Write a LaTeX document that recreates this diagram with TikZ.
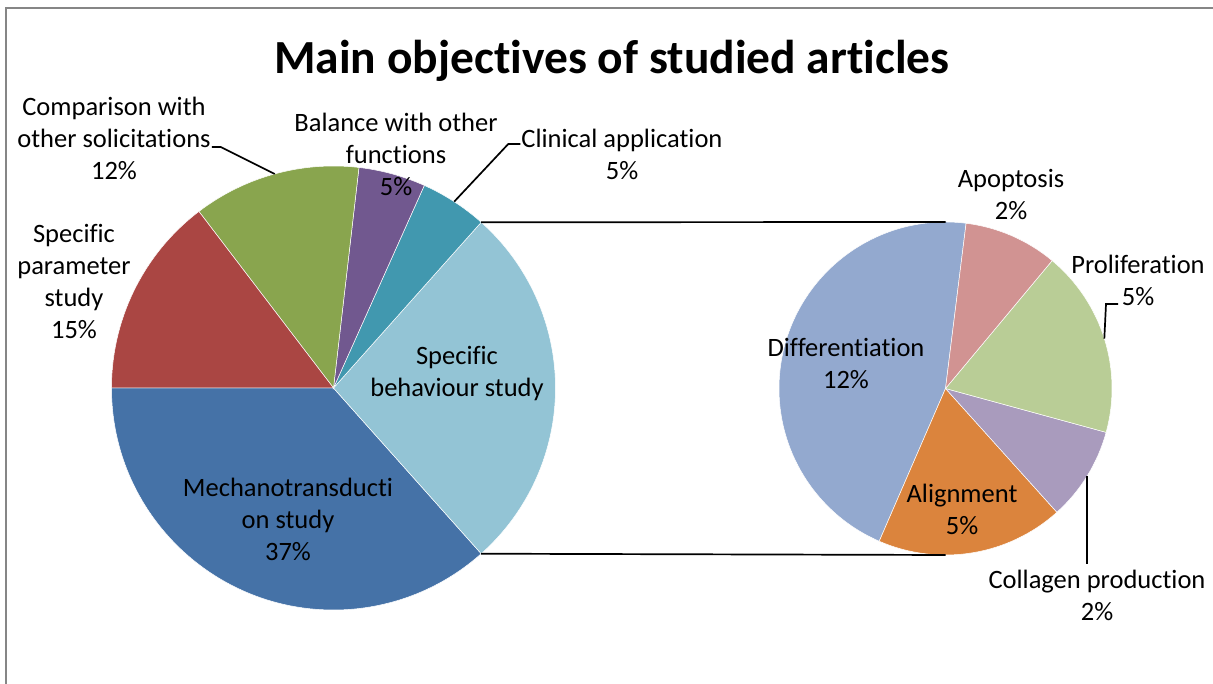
\documentclass[tikz,border=0pt]{standalone}
\usepackage{fontspec}
\setmainfont{Carlito}[Ligatures=NoCommon]
\usepackage{xcolor}
\usepackage{pgf,tikz}
\usetikzlibrary{calc}
\definecolor{framegray}{HTML}{868686}
\definecolor{mechblue}{HTML}{4572A7}
\definecolor{paramred}{HTML}{AA4643}
\definecolor{compgreen}{HTML}{89A54E}
\definecolor{balpurple}{HTML}{71588F}
\definecolor{clinteal}{HTML}{4198AF}
\definecolor{behavblue}{HTML}{93C4D5}
\definecolor{diffblue}{HTML}{93A9CF}
\definecolor{apopred}{HTML}{D19392}
\definecolor{prolgreen}{HTML}{B9CD96}
\definecolor{collpurple}{HTML}{A99BBD}
\definecolor{alignorange}{HTML}{DB843D}
\newcommand{\charttitlefont}{\fontsize{47.5}{57}\bfseries\selectfont}
\newcommand{\slicefont}{\fontsize{26.5}{32}\selectfont}
\tikzset{
    slicelabel/.style={black, align=center, font=\slicefont, inner sep=1pt},
    leader/.style={black, line width=1.7pt},
    wedge/.style={draw=white, line width=0.5pt}
}

\begin{document}
\begin{tikzpicture}[x=1pt,y=1pt]
    % Fix the picture size
    \useasboundingbox (0,0) rectangle (1213,684);
    % Draw outside frame
    \draw[framegray, line width=1.6pt] (6,0) -- (6,676) -- (1213,676);
    % Draw title
    \node[black, anchor=base, font=\charttitlefont] (title) at (612,610) {Main objectives of studied articles};
    % Draw big pie
    \coordinate (bigC) at (333.5,296);
    \foreach \s/\e/\c in {180/311.71/mechblue, 311.71/408.29/behavblue, 48.29/65.85/clinteal,
        65.85/83.41/balpurple, 83.41/127.32/compgreen, 127.32/180/paramred}
    {
        \filldraw[wedge, fill=\c] (bigC) -- ++(\s:222) arc[start angle=\s, end angle=\e, radius=222] -- cycle;
    }
    % Draw small pie
    \coordinate (smallC) at (945.5,295.5);
    \foreach \s/\e/\c in {82.9/246.54/diffblue, 246.54/311.99/alignorange, 311.99/344.72/collpurple,
        344.72/410.17/prolgreen, 410.17/442.9/apopred}
    {
        \filldraw[wedge, fill=\c] (smallC) -- ++(\s:166.5) arc[start angle=\s, end angle=\e, radius=166.5] -- cycle;
    }
    % Points on the pies
    \coordinate (bigTop) at ($(bigC)+(48.29:222)$);
    \coordinate (bigBot) at ($(bigC)+(-48.29:222)$);
    \coordinate (smallTop) at ($(smallC)+(90:166.5)$);
    \coordinate (smallBot) at ($(smallC)+(-90:166.5)$);
    \coordinate (compPt) at ($(bigC)+(105.37:222)$);
    \coordinate (clinPt) at ($(bigC)+(57.07:222)$);
    \coordinate (prolPt) at ($(smallC)+(17.45:166.5)$);
    \coordinate (collPt) at ($(smallC)+(-31.64:166.5)$);
    % Labels of big pie
    \node[slicelabel] (comp) at (114,546) {Comparison with\\other solicitations\\12\%};
    \node[slicelabel] (bal) at (396,530) {Balance with other\\functions\\5\%};
    \node[slicelabel] (clin) at (622,530) {Clinical application\\5\%};
    \node[slicelabel] (param) at (74,402) {Specific\\parameter\\study\\15\%};
    \node[slicelabel] (behav) at (457,310) {Specific\\behaviour study};
    \node[slicelabel] (mech) at (288,165) {Mechanotransducti\\on study\\37\%};
    % Labels of small pie
    \node[slicelabel] (apop) at (1011,489.5) {Apoptosis\\2\%};
    \node[slicelabel] (prol) at (1138,404) {Proliferation\\5\%};
    \node[slicelabel] (coll) at (1097,89) {Collagen production\\2\%};
    \node[slicelabel] (diff) at (846,320) {Differentiation\\12\%};
    \node[slicelabel] (align) at (962,175) {Alignment\\5\%};
    % Draw leader lines
    \draw[leader] ([yshift=-9pt]comp.east) -- ++(9,0) -- (compPt);
    \draw[leader] ([yshift=10pt]clin.west) -- ++(-12,0) -- (clinPt);
    \draw[leader] ([xshift=-20pt, yshift=-24pt]prol.center) -- ++(-12,0) -- (prolPt);
    \draw[leader] (collPt) -- ([yshift=4pt]collPt |- coll.north);
    % Draw connecting lines
    \draw[leader] (bigTop) -- (smallTop);
    \draw[leader] (bigBot) -- (smallBot);
\end{tikzpicture}
\end{document}
